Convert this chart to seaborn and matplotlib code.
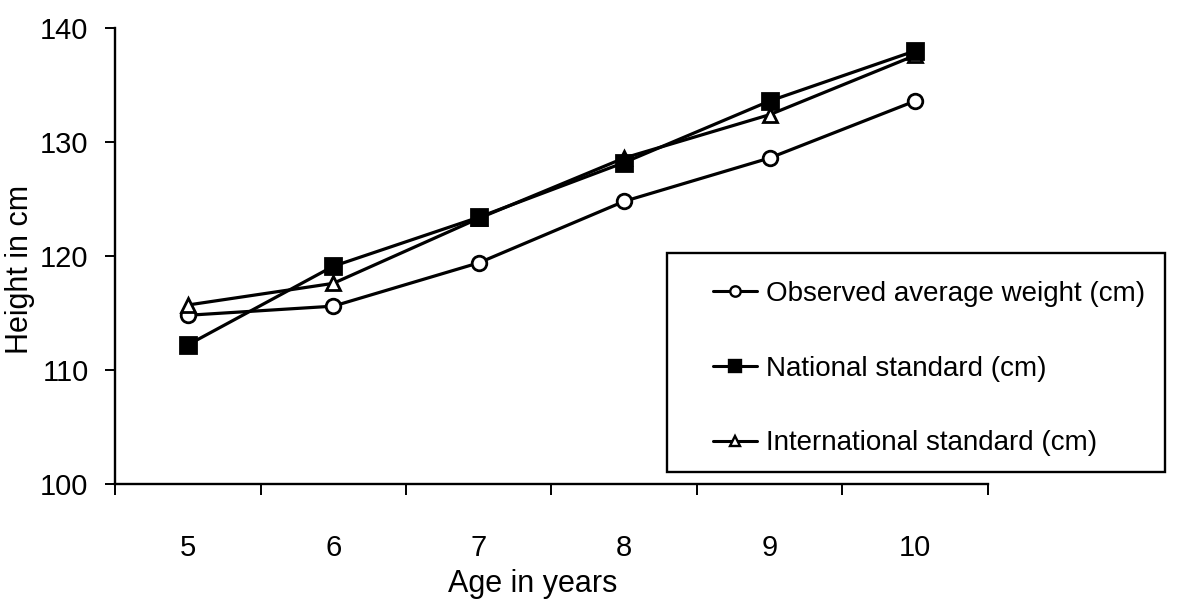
import matplotlib
matplotlib.use("Agg")
import matplotlib.pyplot as plt
import matplotlib.patches as mpatches
from matplotlib.lines import Line2D
from matplotlib.ticker import FixedLocator
import seaborn as sns
import pandas as pd

ages = [5, 6, 7, 8, 9, 10]
observed = [114.8, 115.6, 119.4, 124.8, 128.6, 133.6]
national = [112.2, 119.1, 123.4, 128.2, 133.6, 138.0]
international = [115.7, 117.6, 123.3, 128.6, 132.4, 137.6]
labels = ["Observed average weight (cm)", "National standard (cm)", "International standard (cm)"]
yticks = [100, 110, 120, 130, 140]

sns.set_theme(style="white")
plt.rcParams['font.family'] = ['Liberation Sans', 'DejaVu Sans']
plt.rcParams['text.color'] = 'black'
plt.rcParams['axes.labelcolor'] = 'black'
plt.rcParams['xtick.color'] = 'black'
plt.rcParams['ytick.color'] = 'black'

W, H = 1190, 605
fig = plt.figure(figsize=(W / 100, H / 100), dpi=100)
ax = fig.add_axes([115 / W, 1 - 484 / H, (988 - 115) / W, (484 - 28) / H])

df_obs = pd.DataFrame({"age": ages, "h": observed})
df_nat = pd.DataFrame({"age": ages, "h": national})
df_int = pd.DataFrame({"age": ages, "h": international})

common = dict(color="black", linewidth=2.3, markeredgecolor="black", markeredgewidth=2.0)
sns.lineplot(data=df_obs, x="age", y="h", ax=ax, marker="o", markersize=10.5,
             markerfacecolor="white", zorder=3, legend=False, **common)
sns.lineplot(data=df_nat, x="age", y="h", ax=ax, marker="s", markersize=12,
             markerfacecolor="black", zorder=5, legend=False, **common)
sns.lineplot(data=df_int, x="age", y="h", ax=ax, marker="^", markersize=10.5,
             markerfacecolor="white", zorder=4, legend=False, **common)

ax.set_xlim(4.5, 10.5)
ax.set_ylim(100, 140)
ax.xaxis.set_major_locator(FixedLocator(ages))
ax.xaxis.set_minor_locator(FixedLocator([a - 0.5 for a in ages] + [ages[-1] + 0.5]))
ax.set_yticks(yticks)
ax.tick_params(axis="x", which="major", length=0, pad=36, labelsize=21)
ax.tick_params(axis="x", which="minor", length=8, width=1.4, direction="out", bottom=True)
ax.tick_params(axis="y", which="major", length=7, width=1.4, direction="out", left=True,
               labelsize=21, pad=12)

for s in ["top", "right"]:
    ax.spines[s].set_visible(False)
for s in ["left", "bottom"]:
    ax.spines[s].set_color("black")
    ax.spines[s].set_linewidth(1.7)

ax.set_xlabel("Age in years", fontsize=22)
ax.xaxis.set_label_coords(0.478, -0.186)
ax.set_ylabel("Height in cm", fontsize=22)
ax.yaxis.set_label_coords(-0.092, 0.47)

# legend frame drawn as a rectangle in pixel-based figure coords
box_l, box_r, box_t, box_b = 667, 1165, 253, 472
fig.patches.append(mpatches.Rectangle((box_l / W, 1 - box_b / H), (box_r - box_l) / W,
                                      (box_b - box_t) / H, transform=fig.transFigure,
                                      fill=False, edgecolor="black", linewidth=1.7, zorder=1))

h2 = [Line2D([], [], color="black", lw=2.2, marker="o", markersize=7.5, mfc="white", mec="black", mew=1.7),
      Line2D([], [], color="black", lw=2.2, marker="s", markersize=8.5, mfc="black", mec="black", mew=1.7),
      Line2D([], [], color="black", lw=2.2, marker="^", markersize=7.5, mfc="white", mec="black", mew=1.7)]
leg = fig.legend(h2, labels, loc="upper left", bbox_to_anchor=(713 / W, 1 - 281 / H),
                 fontsize=20, frameon=False, handlelength=1.6, handletextpad=0.3,
                 labelspacing=1.75, borderpad=0, borderaxespad=0)

fig.savefig("out.png", dpi=100, facecolor="white")
